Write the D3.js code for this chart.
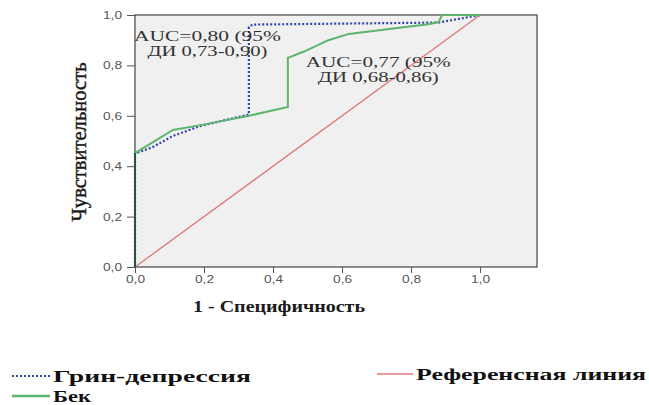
<!DOCTYPE html>
<html>
<head>
<meta charset="utf-8">
<script src="https://cdn.jsdelivr.net/npm/d3@7"></script>
<style>
  body { margin: 0; background: #fff; }
  svg { display: block; }
</style>
</head>
<body>
<div id="chart"></div>
<script>
// DATA (1 - specificity, sensitivity)
const seriesNames = ['Грин-депрессия', 'Бек', 'Референсная линия'];
const greenFpr = [0, 0, 0.05, 0.11, 0.19, 0.33, 0.33, 0.34, 0.88, 1.0];
const greenTpr = [0, 0.45, 0.475, 0.52, 0.56, 0.605, 0.952, 0.962, 0.97, 1.0];
const beckFpr = [0, 0, 0.11, 0.19, 0.33, 0.443, 0.443, 0.49, 0.56, 0.62, 0.76, 0.85, 0.88, 0.89, 1.0];
const beckTpr = [0, 0.452, 0.544, 0.563, 0.60, 0.635, 0.83, 0.855, 0.90, 0.925, 0.948, 0.963, 0.972, 1.0, 1.0];
const refFpr = [0, 1];
const refTpr = [0, 1];
const tickValues = [0, 0.2, 0.4, 0.6, 0.8, 1.0];
const aucLabels = [
  ['AUC=0,80 (95%', 'ДИ 0,73-0,90)'],
  ['AUC=0,77 (95%', 'ДИ 0,68-0,86)']
];
const xTitle = '1 - Специфичность';
const yTitle = 'Чувствительность';

// LAYOUT
const W = 649, H = 405;
const m = { left: 135, top: 15, right: 537, bottom: 267 };
const serif = '"Liberation Serif", "DejaVu Serif", serif';
const sans = '"Liberation Sans", Arial, sans-serif';
const colors = ['#2f45a8', '#5cb56c', '#e07777'];

const svg = d3.select('#chart').append('svg')
  .attr('width', W).attr('height', H);

// SCALES
const x = d3.scaleLinear().domain([0, 1.165]).range([m.left, m.right]);
const y = d3.scaleLinear().domain([0, 1]).range([m.bottom, m.top]);
const fmt = (d) => d3.format('.1f')(d).replace('.', ',');

// PLOT AREA + FRAME
svg.append('rect')
  .attr('x', m.left).attr('y', m.top)
  .attr('width', m.right - m.left).attr('height', m.bottom - m.top)
  .attr('fill', '#f0f0f0').attr('stroke', '#444').attr('stroke-width', 1.2);

// LINES
const zip = (a, b) => a.map((v, i) => [v, b[i]]);
const line = d3.line().x((d) => x(d[0])).y((d) => y(d[1]));

svg.append('path').datum(zip(refFpr, refTpr))
  .attr('fill', 'none').attr('stroke', colors[2]).attr('stroke-width', 1.3)
  .attr('d', line);

svg.append('path').datum(zip(greenFpr, greenTpr))
  .attr('fill', 'none').attr('stroke', colors[0]).attr('stroke-width', 2.2)
  .attr('stroke-dasharray', '2,2')
  .attr('d', line);

svg.append('path').datum(zip(beckFpr, beckTpr))
  .attr('fill', 'none').attr('stroke', colors[1]).attr('stroke-width', 2)
  .attr('d', line);

// dark overlap of the Бек curve with the left axis
svg.append('path').datum(zip(beckFpr.slice(0, 2), beckTpr.slice(0, 2)))
  .attr('fill', 'none').attr('stroke', '#24583a').attr('stroke-width', 2)
  .attr('d', line);

// AXES
const xAxis = svg.append('g')
  .attr('transform', `translate(0,${m.bottom})`)
  .call(d3.axisBottom(x).tickValues(tickValues).tickFormat(fmt).tickSizeInner(6).tickSizeOuter(0));
const yAxis = svg.append('g')
  .attr('transform', `translate(${m.left},0)`)
  .call(d3.axisLeft(y).tickValues(tickValues).tickFormat(fmt).tickSizeInner(8).tickSizeOuter(0));

[xAxis, yAxis].forEach((g) => {
  g.select('.domain').remove();
  g.selectAll('line').attr('stroke', '#555');
  g.selectAll('text')
    .attr('font-family', sans).attr('font-size', 11).attr('fill', '#555')
    .attr('textLength', 19).attr('lengthAdjust', 'spacingAndGlyphs');
});
xAxis.selectAll('text').attr('dy', '0.75em').attr('y', 8);
yAxis.selectAll('text').attr('x', -13);

// AUC ANNOTATIONS
const aucPos = [[0.21, 0.895], [0.705, 0.795]];
const aucWidths = [[147, 120], [145, 121]];
aucLabels.forEach((lines, i) => {
  lines.forEach((t, j) => {
    svg.append('text')
      .attr('x', x(aucPos[i][0]))
      .attr('y', y(aucPos[i][1]) + j * 15)
      .attr('text-anchor', 'middle')
      .attr('font-family', serif).attr('font-size', 15).attr('fill', '#333')
      .attr('textLength', aucWidths[i][j]).attr('lengthAdjust', 'spacingAndGlyphs')
      .text(t);
  });
});

// AXIS TITLES
svg.append('text')
  .attr('x', 193).attr('y', 312)
  .attr('font-family', serif).attr('font-size', 16).attr('font-weight', 'bold').attr('fill', '#1a1a1a')
  .attr('textLength', 172).attr('lengthAdjust', 'spacingAndGlyphs')
  .text(xTitle);

svg.append('text')
  .attr('transform', `translate(86,${(m.top + m.bottom) / 2 + 1}) scale(1.4,1) rotate(-90)`)
  .attr('text-anchor', 'middle')
  .attr('font-family', serif).attr('font-size', 15).attr('fill', '#1a1a1a')
  .attr('stroke', '#1a1a1a').attr('stroke-width', 0.3)
  .attr('textLength', 159).attr('lengthAdjust', 'spacingAndGlyphs')
  .text(yTitle);

// LEGEND
const legend = [
  { sx: 12, sy: 376, len: 38, w: 198, dash: '2,2', sw: 2 },
  { sx: 12, sy: 396, len: 38, w: 38, dash: null, sw: 2.5 },
  { sx: 377, sy: 374, len: 36, w: 230, dash: null, sw: 1.3 }
];
legend.forEach((l, i) => {
  svg.append('line')
    .attr('x1', l.sx).attr('x2', l.sx + l.len)
    .attr('y1', l.sy).attr('y2', l.sy)
    .attr('stroke', colors[i]).attr('stroke-width', l.sw)
    .attr('stroke-dasharray', l.dash);
  svg.append('text')
    .attr('x', l.sx + l.len + 3).attr('y', l.sy + 6)
    .attr('font-family', serif).attr('font-size', 16).attr('font-weight', 'bold').attr('fill', '#111')
    .attr('textLength', l.w).attr('lengthAdjust', 'spacingAndGlyphs')
    .text(seriesNames[i]);
});
</script>
</body>
</html>
